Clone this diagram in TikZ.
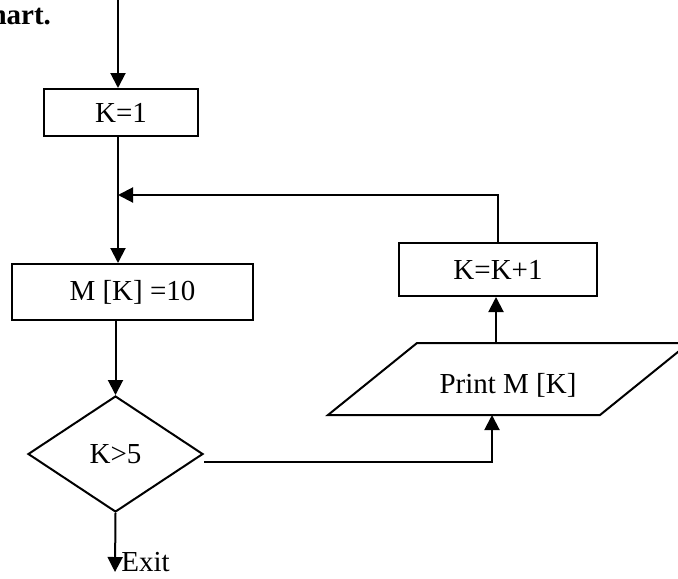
\documentclass[tikz,border=0pt]{standalone}
\usepackage{fontspec}
\setmainfont{Liberation Serif}
\usetikzlibrary{arrows.meta}
\usetikzlibrary{shapes.geometric}
\tikzset{
    flow/.style={draw=black, line width=1pt, inner sep=0pt},
    stepbox/.style args={#1x#2}{flow, rectangle, minimum width=#1, minimum height=#2},
    test/.style={flow, diamond, minimum width=87.5pt, minimum height=58pt},
    link/.style={-{Triangle[length=7.5pt, width=7.5pt]}, black, line width=1pt}
}

\begin{document}
\begin{tikzpicture}[x=0.5pt, y=-0.5pt, font=\fontsize{14.5}{16}\selectfont]
    \useasboundingbox (0,0) rectangle (678,578);

    \node[anchor=base east, font=\fontsize{14.5}{16}\selectfont\bfseries] (TITLE) at (58,25) {hart.};

    \coordinate (START) at (118,0);
    \coordinate (JOIN) at (118,195);

    \node[stepbox=77pt x 23.5pt] (KONE) at (121,112.5) {K=1};
    \node[stepbox=120.5pt x 28pt] (MK) at (132.5,292) {M [K] =10};
    \node[test] (TEST) at (115.5,454) {K>5};
    \node[stepbox=99pt x 26.5pt] (INC) at (498,269.5) {K=K+1};

    % print box
    \coordinate (PA) at (328,415);
    \coordinate (PB) at (600,415);
    \coordinate (PC) at (689,343);
    \coordinate (PD) at (417,343);
    \draw[black, line width=1pt] (PA) -- (PB) -- (PC) -- (PD) -- cycle;
    \node[anchor=base] (PRINT) at (508,393) {Print M [K]};

    \coordinate (PIN) at (492,415);
    \coordinate (POUT) at (496,343);
    \coordinate (NO) at (204,462);
    \coordinate (OUT) at (115,572);
    \node[anchor=base west, inner sep=0pt] (EXIT) at (121,571) {Exit};

    \draw[link] (START) -- (START |- KONE.north);
    \draw[black, line width=1pt] (JOIN |- KONE.south) -- (JOIN);
    \draw[link] (JOIN) -- (JOIN |- MK.north);
    \draw[link] (MK.south -| TEST.north) -- (TEST.north);
    \draw[link] (NO) -| (PIN);
    \draw[link] (POUT) -- (POUT |- INC.south);
    \draw[link] (INC.north) |- (JOIN);
    \draw[link] (TEST.south) -- (OUT);

    % \draw[help lines, step=50] (0,0) grid (678,578);
\end{tikzpicture}
\end{document}
